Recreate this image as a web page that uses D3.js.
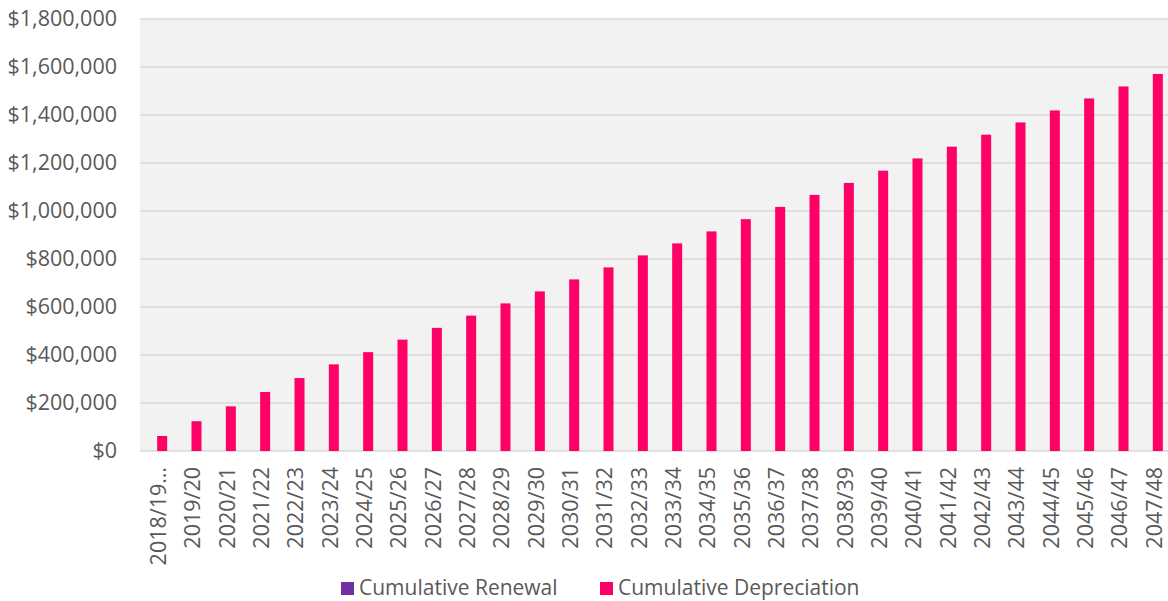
<!DOCTYPE html>
<html>
<head>
<meta charset="utf-8">
<script src="https://cdn.jsdelivr.net/npm/d3@7"></script>
<style>
  body { margin: 0; background: #fff; }
  text { font-family: "Open Sans", sans-serif; fill: #595959; }
</style>
</head>
<body>
<svg id="chart" width="1168" height="601"></svg>
<script>

// financial years on the x axis
const years = ['2018/19…', '2019/20', '2020/21', '2021/22', '2022/23', '2023/24',
    '2024/25', '2025/26', '2026/27', '2027/28', '2028/29', '2029/30', '2030/31',
    '2031/32', '2032/33', '2033/34', '2034/35', '2035/36', '2036/37', '2037/38',
    '2038/39', '2039/40', '2040/41', '2041/42', '2042/43', '2043/44', '2044/45',
    '2045/46', '2046/47', '2047/48'];

// nothing renewed in the period, so every bar is empty
const renewal = [0, 0, 0, 0, 0, 0, 0, 0, 0, 0, 0, 0, 0, 0, 0,
    0, 0, 0, 0, 0, 0, 0, 0, 0, 0, 0, 0, 0, 0, 0];

const depreciation = [62500, 124000, 186000, 246000, 304000, 361000, 412000,
    464000, 513000, 564000, 615000, 665000, 715000, 765000, 815000, 865000,
    915000, 966000, 1017000, 1067000, 1117000, 1168000, 1219000, 1268000,
    1318000, 1369000, 1419000, 1469000, 1519000, 1571000];

const yTicks = [0, 200000, 400000, 600000, 800000, 1000000, 1200000,
    1400000, 1600000, 1800000];

const seriesNames = ['Cumulative Renewal', 'Cumulative Depreciation'];
const seriesColors = ['#7030a0', '#ff0066'];

const plot = {'left': 140, 'right': 1170, 'top': 19, 'bottom': 451};
const fontSize = '21.5px';

const svg = d3.select('#chart');

const x = d3.scaleBand()
    .domain(years)
    .range([plot.left, plot.right])
    .paddingInner(0.417)
    .paddingOuter(0.2085);

const xSub = d3.scaleBand()
    .domain(seriesNames)
    .range([0, x.bandwidth()]);

const y = d3.scaleLinear()
    .domain([0, 1800000])
    .range([plot.bottom, plot.top]);

// plot background
svg.append('rect')
    .attr('x', plot.left)
    .attr('y', plot.top)
    .attr('width', plot.right - plot.left)
    .attr('height', plot.bottom - plot.top)
    .style('fill', '#f2f2f2');

// gridlines
svg.append('g').selectAll('line')
    .data(yTicks)
    .enter().append('line')
    .attr('x1', plot.left)
    .attr('x2', plot.right)
    .attr('y1', function(d) {return y(d); })
    .attr('y2', function(d) {return y(d); })
    .style('stroke', '#d9d9d9')
    .style('stroke-width', 1.5);

// y axis labels
const yAxis = d3.axisLeft(y)
    .tickValues(yTicks)
    .tickSize(0)
    .tickPadding(23)
    .tickFormat(function(d) {return '$' + d3.format(',')(d); });

svg.append('g')
    .attr('transform', 'translate(' + plot.left + ',0)')
    .call(yAxis)
    .call(function(g) {g.select('.domain').remove(); })
    .selectAll('text')
    .style('font-size', fontSize)
    .style('font-family', '"Open Sans", sans-serif')
    .style('fill', '#595959');

// x axis labels
const xAxis = d3.axisBottom(x).tickSize(0).tickPadding(0);

svg.append('g')
    .attr('transform', 'translate(0,' + plot.bottom + ')')
    .call(xAxis)
    .call(function(g) {g.select('.domain').remove(); })
    .selectAll('text')
    .attr('transform', 'translate(1,16) rotate(-90)')
    .attr('text-anchor', 'end')
    .attr('x', 0)
    .attr('y', 0)
    .attr('dy', '0.36em')
    .style('font-size', fontSize)
    .style('font-family', '"Open Sans", sans-serif')
    .style('fill', '#595959');

// bars
const rows = years.map(function(yr, i) {
    return {'year': yr, 'values': [renewal[i], depreciation[i]]};
});

const groups = svg.append('g').selectAll('g')
    .data(rows)
    .enter().append('g')
    .attr('transform', function(d) {return 'translate(' + x(d.year) + ',0)'; });

groups.selectAll('rect')
    .data(function(d) {
        return d.values.map(function(v, k) {return {'name': seriesNames[k], 'v': v, 'k': k}; });
    })
    .enter().append('rect')
    .attr('x', function(d) {return xSub(d.name); })
    .attr('width', xSub.bandwidth())
    .attr('y', function(d) {return y(d.v); })
    .attr('height', function(d) {return y(0) - y(d.v); })
    .style('fill', function(d) {return seriesColors[d.k]; });

// legend
const legendItems = [{'x': 341, 'k': 0}, {'x': 600, 'k': 1}];

const legend = svg.append('g').selectAll('g')
    .data(legendItems)
    .enter().append('g')
    .attr('transform', function(d) {return 'translate(' + d.x + ',582)'; });

legend.append('rect')
    .attr('width', 13)
    .attr('height', 13)
    .style('fill', function(d) {return seriesColors[d.k]; });

legend.append('text')
    .attr('x', 18)
    .attr('y', 13)
    .style('font-size', '21px')
    .text(function(d) {return seriesNames[d.k]; });

</script>
</body>
</html>
